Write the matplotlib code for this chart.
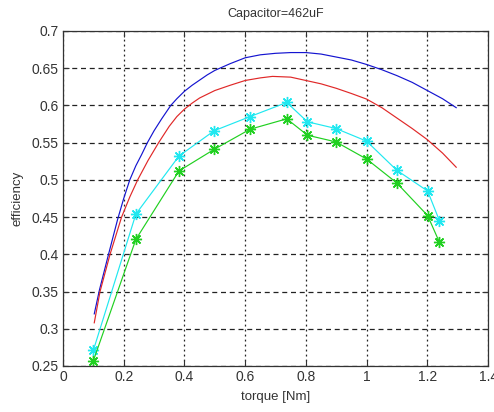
import matplotlib
matplotlib.use("Agg")
import matplotlib.pyplot as plt

plt.rcParams['font.family'] = ['Liberation Sans', 'DejaVu Sans']

title = "Capacitor=462uF"
xlabel = "torque [Nm]"
ylabel = "efficiency"

x_ticks = [0, 0.2, 0.4, 0.6, 0.8, 1.0, 1.2, 1.4]
x_tick_labels = ["0", "0.2", "0.4", "0.6", "0.8", "1", "1.2", "1.4"]
y_ticks = [0.25, 0.3, 0.35, 0.4, 0.45, 0.5, 0.55, 0.6, 0.65, 0.7]
y_tick_labels = ["0.25", "0.3", "0.35", "0.4", "0.45", "0.5", "0.55", "0.6", "0.65", "0.7"]

blue_x = [0.103, 0.12, 0.15, 0.18, 0.20, 0.22, 0.24, 0.259, 0.278, 0.30, 0.325, 0.355, 0.375,
          0.40, 0.425, 0.45, 0.475, 0.50, 0.55, 0.60, 0.65, 0.70, 0.75, 0.80, 0.85, 0.90,
          0.95, 1.00, 1.05, 1.10, 1.15, 1.20, 1.25, 1.295]
blue_y = [0.320, 0.352, 0.400, 0.447, 0.475, 0.500, 0.519, 0.534, 0.550, 0.566, 0.582, 0.600, 0.609,
          0.619, 0.627, 0.634, 0.641, 0.647, 0.656, 0.664, 0.668, 0.670, 0.671, 0.671, 0.669, 0.665,
          0.661, 0.655, 0.648, 0.640, 0.631, 0.620, 0.609, 0.597]

red_x = [0.103, 0.122, 0.155, 0.193, 0.22, 0.246, 0.28, 0.315, 0.35, 0.375, 0.40, 0.425, 0.45,
         0.475, 0.50, 0.55, 0.60, 0.65, 0.69, 0.75, 0.80, 0.85, 0.90, 0.95, 1.00, 1.05, 1.10,
         1.15, 1.20, 1.25, 1.295]
red_y = [0.308, 0.350, 0.400, 0.450, 0.477, 0.500, 0.526, 0.550, 0.572, 0.585, 0.595, 0.603, 0.610,
         0.615, 0.620, 0.627, 0.6335, 0.637, 0.639, 0.638, 0.6335, 0.629, 0.623, 0.616, 0.6085, 0.597, 0.583,
         0.569, 0.554, 0.536, 0.517]

meas_x = [0.10, 0.24, 0.382, 0.498, 0.616, 0.737, 0.805, 0.899, 1.00, 1.099, 1.201, 1.24]
cyan_y = [0.271, 0.454, 0.532, 0.566, 0.585, 0.604, 0.578, 0.569, 0.552, 0.513, 0.485, 0.445]
green_y = [0.257, 0.420, 0.512, 0.541, 0.568, 0.582, 0.560, 0.551, 0.528, 0.496, 0.452, 0.416]

fig = plt.figure(figsize=(4.94, 4.12), dpi=100)
ax = fig.add_axes([0.1275, 0.1117, 0.8605, 0.8131])

ax.plot(blue_x, blue_y, color='#1414d0', lw=0.85)
ax.plot(red_x, red_y, color='#e02828', lw=0.85)
ast = (8, 2, 0)
ax.plot(meas_x, cyan_y, color='#20e8f0', lw=0.85, marker=ast, ms=8, mew=1.0)
ax.plot(meas_x, green_y, color='#20d020', lw=0.85, marker=ast, ms=8, mew=1.0)

ax.set_xlim(0, 1.4)
ax.set_ylim(0.25, 0.7)
ax.set_xticks(x_ticks)
ax.set_xticklabels(x_tick_labels)
ax.set_yticks(y_ticks)
ax.set_yticklabels(y_tick_labels)

ax.xaxis.grid(True, color='#222222', linestyle=(0, (1.5, 2.5)), lw=0.9)
ax.yaxis.grid(True, color='#222222', linestyle=(0, (4, 3)), lw=0.9)
ax.set_axisbelow(True)

ax.tick_params(direction='in', length=4, width=0.8, labelsize=10, colors='#333333',
               top=True, right=True, pad=3)
for s in ax.spines.values():
    s.set_color('#333333')
    s.set_linewidth(0.9)

ax.set_title(title, fontsize=9, color='#333333', pad=10)
ax.set_xlabel(xlabel, fontsize=9.5, color='#333333', labelpad=5)
ax.set_ylabel(ylabel, fontsize=9.5, color='#333333', labelpad=6)

fig.savefig("out.png", dpi=100)
